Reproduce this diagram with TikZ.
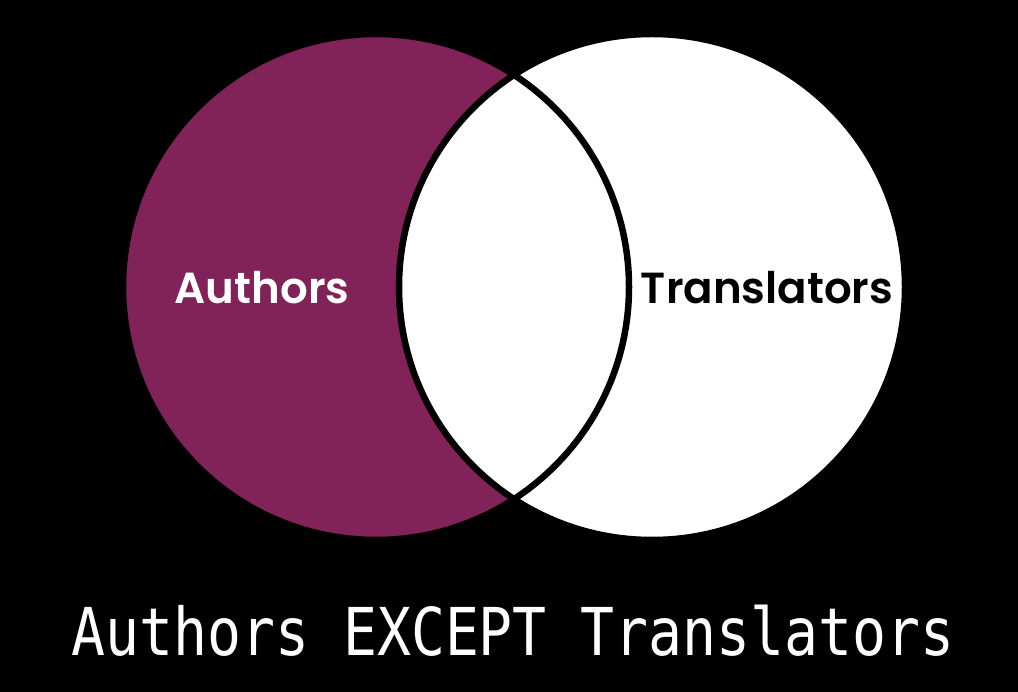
\documentclass[tikz,border=0pt]{standalone}
\usepackage{fontspec}
\setmainfont{Poppins}
\newfontfamily\labelfont{Poppins}[UprightFont=* SemiBold]
\newfontfamily\captionfont{DejaVu Sans Mono}[FakeStretch=0.855]
\definecolor{plum}{RGB}{129,34,89}
\tikzset{
  setlabel/.style={font=\labelfont\fontsize{43.5}{44}\selectfont, anchor=base, inner sep=0pt},
  ring/.style={draw=black, line width=6.5pt},
}
\begin{document}
\begin{tikzpicture}[x=1pt,y=-1pt]
\fill[black] (0,0) rectangle (1018,692);
\useasboundingbox (0,0) rectangle (1018,692);
\coordinate (cA) at (376,287);
\coordinate (cT) at (652,287);
\fill[plum] (cA) circle[radius=253];
\fill[white] (cT) circle[radius=253];
\draw[ring] (cA) circle[radius=253];
\draw[ring] (cT) circle[radius=253];
\node[setlabel, text=white] (authors) at (262,304) {Authors};
\node[setlabel, text=black] (translators) at (767,304) {Translators};
\node[font=\captionfont\fontsize{66}{66}\selectfont, text=white, anchor=base, inner sep=0pt] (caption) at (513,655) {Authors EXCEPT Translators};
\end{tikzpicture}
\end{document}
